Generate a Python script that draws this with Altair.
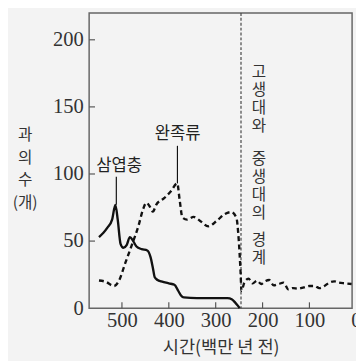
import altair as alt
import pandas as pd

# Trilobites (삼엽충) - solid line
tri_x = [549, 540, 531, 521, 514, 509, 503, 497, 490, 483, 476, 469, 458, 446, 439, 434, 430, 424, 416, 400, 388, 380, 374, 368, 340, 300, 275, 265, 258, 252, 249]
tri_y = [53, 56, 60, 66, 77, 66, 48, 45, 47, 53, 50, 46, 44, 43, 38, 30, 23, 21, 20, 18.5, 17.5, 13, 9.5, 8, 7.5, 7.5, 7.5, 6.5, 4, 1.5, 0]

# Brachiopods (완족류) - dashed line
bra_x = [549, 535, 517, 507, 493, 479, 465, 455, 448, 441, 434, 427, 410, 396, 382, 377, 371, 361, 347, 333, 316, 298, 281, 267, 256, 251, 247, 245, 239, 230, 221, 212, 203, 195, 186, 176, 166, 155, 145, 135, 124, 112, 100, 89, 79, 68, 58, 47, 37, 24, 10]
bra_y = [20.6, 19.7, 16.5, 20, 33.5, 47, 61, 73.6, 78.5, 76, 72, 77, 82, 87, 93, 81, 67.6, 66, 68, 65, 61, 65, 70, 71.6, 67.6, 51.7, 27.5, 13, 19, 22, 18.5, 20.5, 18, 20, 21, 17, 18, 19, 14, 15, 14.5, 15.5, 16.5, 16.5, 15, 16.5, 19, 20, 19, 18.5, 18]

x_ticks = [500, 400, 300, 200, 100]
y_ticks = [0, 50, 100, 150, 200]
extra_x_label = ["0"]
extra_x_label_pos = [0]

boundary_x = [246]

label_names = ["삼엽충", "완족류"]
label_x = [506, 381]
label_y = [105.5, 130]
leader_x = [512, 381.6]
leader_y1 = [77, 93]
leader_y2 = [98, 121]

boundary_text = ["고\n생\n대\n와", "중\n생\n대\n의", "경\n계"]
boundary_text_x = [208, 208, 208]
boundary_text_y = [182, 117, 56.5]

y_title = ["과", "의", "수", "(개)"]
x_title = "시간(백만 년 전)"

W, H = 269, 302
KFONT = "Noto Sans CJK KR"
NFONT = "Liberation Serif"

tri = pd.DataFrame({"t": tri_x, "v": tri_y})
bra = pd.DataFrame({"t": bra_x, "v": bra_y})

xs = alt.Scale(domain=[9, 570], reverse=True, nice=False, zero=False)
ys = alt.Scale(domain=[0, 220], nice=False)

xaxis = alt.Axis(values=x_ticks, ticks=False, domain=False, grid=False,
                 labelFont=NFONT, labelFontSize=21, labelColor="#333", labelPadding=2,
                 title=x_title, titleFont=KFONT, titleFontSize=18, titleFontWeight="normal",
                 titleColor="#333", titlePadding=8)
yaxis = alt.Axis(values=y_ticks, ticks=False, domain=False, grid=False,
                 labelFont=NFONT, labelFontSize=21, labelColor="#333", labelPadding=6,
                 title=y_title, titleFont=KFONT, titleFontSize=16, titleFontWeight="normal",
                 titleColor="#333", titleAngle=0, titleAlign="center", titleBaseline="top",
                 titleX=-66, titleY=116, titleLineHeight=23.5)

tri_line = alt.Chart(tri).mark_line(color="#111", strokeWidth=2.4, interpolate="monotone").encode(
    x=alt.X("t:Q", scale=xs, axis=xaxis),
    y=alt.Y("v:Q", scale=ys, axis=yaxis),
    order=alt.Order("t:Q", sort="descending"),
)

bra_line = alt.Chart(bra).mark_line(color="#111", strokeWidth=2.4, strokeDash=[5, 3.5],
                                    interpolate="monotone").encode(
    x=alt.X("t:Q", scale=xs),
    y=alt.Y("v:Q", scale=ys),
    order=alt.Order("t:Q", sort="descending"),
)

bnd = alt.Chart(pd.DataFrame({"t": boundary_x})).mark_rule(
    color="#444", strokeWidth=1.2, strokeDash=[3, 2]).encode(
    x=alt.X("t:Q", scale=xs), y=alt.value(0), y2=alt.value(H))

lead_df = pd.DataFrame({"t": leader_x, "a": leader_y1, "b": leader_y2})
leaders = alt.Chart(lead_df).mark_rule(color="#111", strokeWidth=1.2).encode(
    x=alt.X("t:Q", scale=xs), y=alt.Y("a:Q", scale=ys), y2="b:Q")

lab_df = pd.DataFrame({"t": label_x, "v": label_y, "s": label_names})
labels = alt.Chart(lab_df).mark_text(font=KFONT, fontSize=17, color="#222",
                                     baseline="middle", align="center").encode(
    x=alt.X("t:Q", scale=xs), y=alt.Y("v:Q", scale=ys), text="s:N")

bt_df = pd.DataFrame({"t": boundary_text_x, "v": boundary_text_y, "s": boundary_text})
btext = alt.Chart(bt_df).mark_text(font=KFONT, fontSize=16, color="#333", baseline="top",
                                   align="center", lineBreak="\n", lineHeight=18.6).encode(
    x=alt.X("t:Q", scale=xs), y=alt.Y("v:Q", scale=ys), text="s:N")

xt_df = pd.DataFrame({"t": x_ticks})
xticks = alt.Chart(xt_df).mark_rule(color="#555", strokeWidth=1.2).encode(
    x=alt.X("t:Q", scale=xs), y=alt.value(H), y2=alt.value(H - 6))

yt_df = pd.DataFrame({"v": y_ticks[1:]})
yticks = alt.Chart(yt_df).mark_rule(color="#555", strokeWidth=1.2).encode(
    y=alt.Y("v:Q", scale=ys), x=alt.value(0), x2=alt.value(6))

x0_df = pd.DataFrame({"t": extra_x_label_pos, "s": extra_x_label})
x0 = alt.Chart(x0_df).mark_text(font=NFONT, fontSize=21, color="#333", baseline="top",
                                align="center", clip=False).encode(
    x=alt.X("t:Q", scale=xs), y=alt.value(H + 2), text="s:N")

chart = alt.layer(bnd, bra_line, tri_line, leaders, labels, btext, xticks, yticks, x0).properties(
    width=W, height=H,
    autosize=alt.AutoSizeParams(type="none"),
    padding={"left": 83, "top": 1, "right": 4, "bottom": 52},
    background="#f3f3f3",
).configure_view(stroke="#666", strokeWidth=1.5)

chart.save("out.html", embed_options={"renderer": "svg", "actions": False})
